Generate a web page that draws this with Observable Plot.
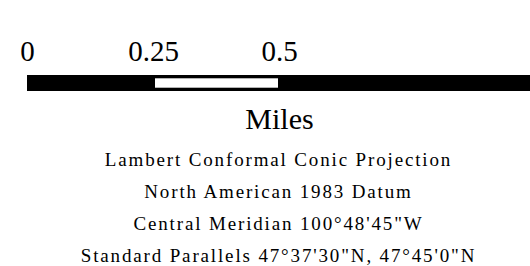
<!DOCTYPE html>
<html>
<head>
<meta charset="utf-8">
<script src="https://cdn.jsdelivr.net/npm/d3@7"></script>
<script src="https://cdn.jsdelivr.net/npm/@observablehq/plot@0.6"></script>
<style>
  html, body { margin: 0; padding: 0; background: #fff; }
  #chart svg { display: block; }
</style>
</head>
<body>
<div id="chart"></div>
<script>
// Scale bar data (miles)
const segStarts = [0, 0.25, 0.5];
const segEnds = [0.25, 0.5, 1];
const tickValues = [0, 0.25, 0.5];
const tickLabels = ["0", "0.25", "0.5"];
const unitsLabel = ["Miles"];
const notes = [
  "Lambert Conformal Conic Projection",
  "North American 1983 Datum",
  "Central Meridian 100°48'45\"W",
  "Standard Parallels 47°37'30\"N, 47°45'0\"N"
];

const segments = segStarts.map((s, i) => ({ start: s, end: segEnds[i], i }));
const whiteSegs = segments.filter(d => d.i % 2 === 1);

const plot = Plot.plot({
  width: 530,
  height: 266,
  margin: 0,
  style: { fontFamily: "'Liberation Serif', 'Times New Roman', serif", background: "#fff", color: "#000", overflow: "visible" },
  x: { domain: [0, 1], range: [27, 531], axis: null },
  y: { type: "band", domain: ["bar"], range: [75, 91], padding: 0, axis: null },
  marks: [
    Plot.barX(segments, { x1: "start", x2: "end", y: () => "bar", fill: "#000" }),
    Plot.barX(whiteSegs, { x1: "start", x2: "end", y: () => "bar", fill: "#fff", insetTop: 3.3, insetBottom: 3.3, insetLeft: 2, insetRight: 1 }),
    Plot.text(tickValues, { x: d => d, text: (d, i) => tickLabels[i], frameAnchor: "top", dy: 60, lineAnchor: "bottom", fontSize: 29, fill: "#000" }),
    Plot.text(unitsLabel, { x: () => 0.5, text: d => d, frameAnchor: "top", dy: 128, lineAnchor: "bottom", fontSize: 30, fill: "#000" }),
    Plot.text([notes.join("\n")], { x: () => 0.5, text: d => d, frameAnchor: "top", dy: 261.5, dx: -1, lineAnchor: "bottom", lineHeight: 32 / 19, fontSize: 19, fill: "#000" })
  ]
});
// widen the tracking of the projection notes
d3.select(plot).selectAll("text")
  .filter(function () { return this.textContent.includes("Lambert"); })
  .style("letter-spacing", "1.85px");
document.getElementById("chart").appendChild(plot);
</script>
</body>
</html>
